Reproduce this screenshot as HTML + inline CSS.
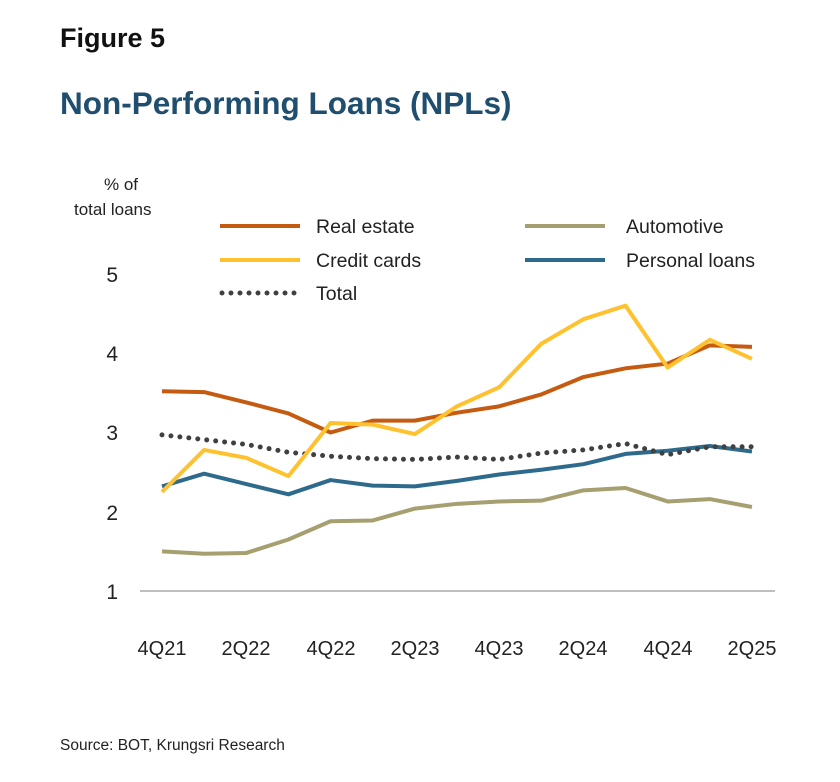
<!DOCTYPE html>
<html><head><meta charset="utf-8"><style>
html,body{margin:0;padding:0;background:#fff;}
svg{display:block;font-family:"Liberation Sans",Arial,sans-serif;}
</style></head><body>
<svg width="840" height="782" viewBox="0 0 840 782" xmlns="http://www.w3.org/2000/svg">
<text x="60" y="47" font-size="27" font-weight="bold" fill="#111">Figure 5</text>
<text x="60" y="114" font-size="31.5" font-weight="bold" fill="#1F4E6E">Non-Performing Loans (NPLs)</text>
<text x="104" y="190" font-size="17" fill="#222">% of</text>
<text x="74" y="215" font-size="17" fill="#222">total loans</text>
<g font-size="21" fill="#222" text-anchor="end">
<text x="118" y="282">5</text><text x="118" y="361">4</text><text x="118" y="440">3</text><text x="118" y="520">2</text><text x="118" y="599">1</text>
</g>
<line x1="140" y1="591" x2="775" y2="591" stroke="#999" stroke-width="1.2"/>
<g font-size="20" fill="#222" text-anchor="middle">
<text x="162" y="655">4Q21</text><text x="246" y="655">2Q22</text><text x="331" y="655">4Q22</text><text x="415" y="655">2Q23</text><text x="499" y="655">4Q23</text><text x="583" y="655">2Q24</text><text x="668" y="655">4Q24</text><text x="752" y="655">2Q25</text>
</g>
<g transform="translate(162,670.25) scale(42.14,-79.25)" fill="none" stroke-linejoin="round">
<polyline vector-effect="non-scaling-stroke" stroke="#A69F70" stroke-width="4" points="0,1.50 1,1.47 2,1.48 3,1.65 4,1.88 5,1.89 6,2.04 7,2.10 8,2.13 9,2.14 10,2.27 11,2.30 12,2.13 13,2.16 14,2.06"/>
<polyline vector-effect="non-scaling-stroke" stroke="#2E6A8C" stroke-width="4" points="0,2.32 1,2.48 2,2.35 3,2.22 4,2.40 5,2.33 6,2.32 7,2.39 8,2.47 9,2.53 10,2.60 11,2.73 12,2.77 13,2.83 14,2.76"/>
<polyline vector-effect="non-scaling-stroke" stroke="#404040" stroke-width="5" stroke-linecap="round" stroke-dasharray="0 9" points="0,2.97 1,2.91 2,2.85 3,2.75 4,2.70 5,2.67 6,2.66 7,2.69 8,2.66 9,2.74 10,2.78 11,2.86 12,2.72 13,2.82 14,2.82"/>
<polyline vector-effect="non-scaling-stroke" stroke="#C55A11" stroke-width="4" points="0,3.52 1,3.51 2,3.38 3,3.24 4,3.00 5,3.15 6,3.15 7,3.25 8,3.33 9,3.48 10,3.70 11,3.81 12,3.87 13,4.10 14,4.08"/>
<polyline vector-effect="non-scaling-stroke" stroke="#FFC22E" stroke-width="4" points="0,2.25 1,2.78 2,2.68 3,2.45 4,3.12 5,3.10 6,2.98 7,3.33 8,3.57 9,4.12 10,4.43 11,4.60 12,3.82 13,4.17 14,3.93"/>
</g>
<g font-size="19.5" fill="#222">
<line x1="220" y1="226" x2="300" y2="226" stroke="#C55A11" stroke-width="4"/><text x="316" y="233">Real estate</text>
<line x1="220" y1="260" x2="300" y2="260" stroke="#FFC22E" stroke-width="4"/><text x="316" y="267">Credit cards</text>
<line x1="222" y1="293" x2="300" y2="293" stroke="#404040" stroke-width="5" stroke-linecap="round" stroke-dasharray="0 9"/><text x="316" y="300">Total</text>
<line x1="525" y1="226" x2="605" y2="226" stroke="#A69F70" stroke-width="4"/><text x="626" y="233">Automotive</text>
<line x1="525" y1="260" x2="605" y2="260" stroke="#2E6A8C" stroke-width="4"/><text x="626" y="267">Personal loans</text>
</g>
<text x="60" y="750" font-size="15.5" fill="#222">Source: BOT, Krungsri Research</text>
</svg>
</body></html>
